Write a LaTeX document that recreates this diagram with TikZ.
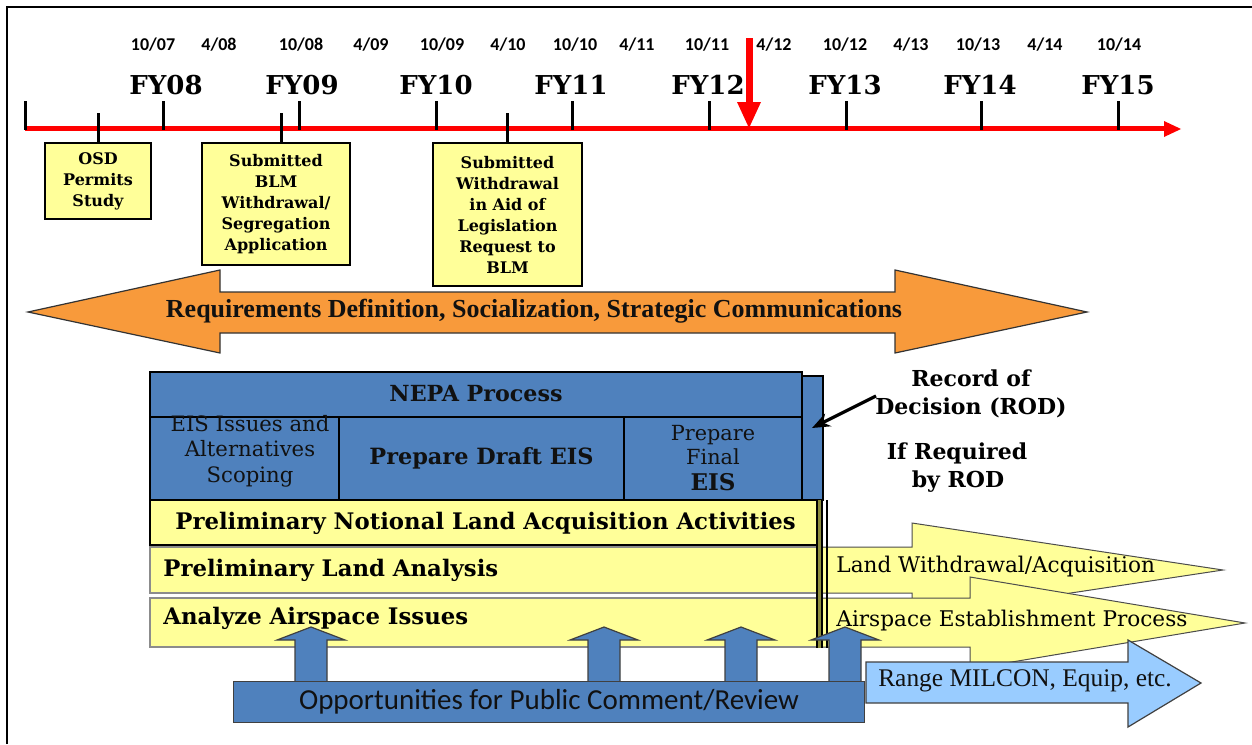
\documentclass[tikz,border=0pt]{standalone}
\usepackage{fontspec}
\setmainfont{DejaVu Serif}
\newfontfamily\calfont{Carlito}
\newfontfamily\libfont{Liberation Serif}
\usetikzlibrary{arrows.meta}
\definecolor{yfill}{HTML}{FFFF99}
\definecolor{bfill}{HTML}{4F81BD}
\definecolor{ofill}{HTML}{F89A3B}
\definecolor{lbfill}{HTML}{99CCFF}
\definecolor{rodline}{HTML}{8C8C3C}
\definecolor{txtdark}{HTML}{111111}
\begin{document}
\begin{tikzpicture}[x=0.5pt,y=-0.5pt,
  redline/.style={draw=red,line width=2.5pt},
  tickmark/.style={draw=black,line width=1.5pt},
  datelbl/.style={font=\calfont\bfseries\fontsize{9}{10}\selectfont,inner sep=0pt},
  fylbl/.style={font=\bfseries\fontsize{13}{14}\selectfont,inner sep=0pt},
  ybox/.style={draw=black,line width=1.2pt,fill=yfill,align=center,inner sep=0pt,
    font=\bfseries\fontsize{8}{10.5}\selectfont},
  bcell/.style={draw=black,line width=1.1pt,fill=bfill,inner sep=0pt,align=center,text=txtdark},
  ybar/.style={draw=black,line width=1.2pt,fill=yfill,inner sep=0pt},
  yarrow/.style={draw=black!70,line width=0.5pt,fill=yfill},
  bluearr/.style={draw=black!75,line width=0.6pt,fill=bfill},
  lbarrow/.style={draw=black!75,line width=0.6pt,fill=lbfill},
  orarrow/.style={draw=black!80,line width=0.6pt,fill=ofill},
  bartext/.style={font=\bfseries\fontsize{11.4}{13}\selectfont,inner sep=0pt,anchor=west},
  arrtext/.style={font=\fontsize{10.8}{12}\selectfont,inner sep=0pt,anchor=west},
  rodtext/.style={font=\bfseries\fontsize{11}{13}\selectfont,inner sep=0pt}
]
\useasboundingbox (0,0) rectangle (1252,744);
\fill[white] (0,0) rectangle (1252,744);
% frame
\draw[line width=1.2pt] (7,744) -- (7,7) -- (1252,7);

% timeline
\coordinate (tlstart) at (25,128);
\coordinate (tlend) at (1166,128);
\draw[redline] (tlstart) -- (tlend);
\fill[red] (1164,121) -- (1181,129) -- (1164,137) -- cycle;
\foreach \tx in {25,163,299,436,572,709,846,981,1118}{
  \draw[tickmark] (\tx,101) -- (\tx,130);
}
% date labels
\foreach \dx/\dt in {153/10\slash 07,219/4\slash 08,301/10\slash 08,371/4\slash 09,442/10\slash 09,508/4\slash 10,575/10\slash 10,637/4\slash 11,707/10\slash 11,774/4\slash 12,845/10\slash 12,911/4\slash 13,978/10\slash 13,1045/4\slash 14,1119/10\slash 14}{
  \node[datelbl] at (\dx,45) {\dt};
}
% FY labels
\foreach \fx/\ft in {166/FY08,302/FY09,436/FY10,571/FY11,708/FY12,845/FY13,980/FY14,1118/FY15}{
  \node[fylbl] at (\fx,85) {\ft};
}
% current-date red arrow
\fill[red] (746,38) rectangle (753,103);
\fill[red] (737,102) -- (761,102) -- (749,128) -- cycle;

% milestone boxes
\node[ybox,minimum width=53pt,minimum height=38pt] (osd) at (98,181) {OSD\\Permits\\Study};
\node[ybox,minimum width=74pt,minimum height=61pt] (blm) at (276,204) {Submitted\\BLM\\Withdrawal/\\Segregation\\Application};
\node[ybox,minimum width=74.5pt,minimum height=71.5pt] (leg) at (507.5,214.5) {Submitted\\Withdrawal\\in Aid of\\Legislation\\Request to\\BLM};
\coordinate (tkosd) at (98,113);
\coordinate (tkblm) at (281,113);
\coordinate (tkleg) at (507,113);
\draw[tickmark] (tkosd) -- (osd.north);
\draw[tickmark] (tkblm) -- (tkblm |- blm.north);
\draw[tickmark] (tkleg) -- (tkleg |- leg.north);

% orange double arrow
\draw[orarrow] (28,312) -- (220,270) -- (220,292) -- (895,292) -- (895,270) -- (1087,312)
  -- (895,353) -- (895,333) -- (220,333) -- (220,353) -- cycle;
\node[font=\libfont\bfseries\fontsize{13}{15}\selectfont,inner sep=0pt,text=txtdark] (req) at (534,311)
  {Requirements Definition, Socialization, Strategic Communications};

% yellow process arrows
\draw[yarrow] (150,547) -- (912,547) -- (912,523) -- (1223,570) -- (912,617) -- (912,593) -- (150,593) -- cycle;
\draw[yarrow] (150,598) -- (970,598) -- (970,577) -- (1245,623) -- (970,669) -- (970,647) -- (150,647) -- cycle;
\draw[draw=black!45,line width=0.6pt] (150,547) rectangle (820,593);
\draw[draw=black!45,line width=0.6pt] (150,598) rectangle (820,647);
\node[arrtext] (lwa) at (836,567) {Land Withdrawal/Acquisition};
\node[arrtext] (aep) at (836,621) {Airspace Establishment Process};
\node[bartext] (pla) at (163,570) {Preliminary Land Analysis};
\node[bartext] (aai) at (163,618) {Analyze Airspace Issues};

% light blue arrow
\draw[lbarrow] (866,662) -- (1128,662) -- (1128,640) -- (1201,683) -- (1128,727) -- (1128,703) -- (866,703) -- cycle;
\node[font=\libfont\fontsize{12.7}{14}\selectfont,inner sep=0pt,text=txtdark] (milcon) at (1025,681) {Range MILCON, Equip, etc.};

% NEPA block
\node[bcell,minimum width=326pt,minimum height=22.5pt] (nepa) at (476,394.5) {};
\node[font=\bfseries\fontsize{11.1}{13}\selectfont,inner sep=0pt,text=txtdark] (nepatxt) at (476,394) {NEPA Process};
\node[bcell,minimum width=94.5pt,minimum height=41.5pt] (eis) at (244.5,458.5) {};
\node[font=\fontsize{10.6}{12.8}\selectfont,inner sep=0pt,align=center,text=txtdark] (eistxt) at (250,451) {EIS Issues and\\Alternatives\\Scoping};
\node[bcell,minimum width=142.5pt,minimum height=41.5pt,font=\bfseries\fontsize{11.2}{13}\selectfont] (draft) at (481.5,458.5) {Prepare Draft EIS};
\node[bcell,minimum width=89pt,minimum height=41.5pt,font=\fontsize{10.4}{12}\selectfont] (final) at (713,458.5) {Prepare\\Final\\[1pt]{\bfseries\fontsize{11.5}{12}\selectfont EIS}};
\node[bcell,minimum width=10.5pt,minimum height=62pt] (rodbar) at (812.5,438) {};

% notional bar
\node[ybar,minimum width=336pt,minimum height=22.5pt] (notional) at (486,522.5) {};
\node[bartext] (notionaltxt) at (175,523) {Preliminary Notional Land Acquisition Activities};

% ROD vertical lines
\fill[rodline] (817,500) rectangle (822,648);
\draw[line width=0.7pt] (817,500) -- (817,648);
\draw[line width=0.7pt] (822,500) -- (822,648);
\draw[line width=0.8pt] (827,500) -- (827,648);

% ROD labels and arrow
\node[rodtext] (rec1) at (971,378) {Record of};
\node[rodtext] (rec2) at (971,408) {Decision (ROD)};
\node[rodtext] (ifr1) at (957,453) {If Required};
\node[rodtext] (ifr2) at (958,482) {by ROD};
\coordinate (rodfrom) at (876,396);
\coordinate (rodto) at (812,428);
\draw[line width=1.6pt,-{Stealth[length=9pt,width=7pt]}] (rodfrom) -- (rodto);

% public comment up arrows
\foreach \cx in {311,604,741,845}{
  \draw[bluearr] (\cx-16,682) -- (\cx-16,640) -- (\cx-34,640) -- (\cx,627) -- (\cx+34,640) -- (\cx+16,640) -- (\cx+16,682);
}
\node[draw=black!75,line width=0.7pt,fill=bfill,minimum width=315.5pt,minimum height=20.5pt,inner sep=0pt,
  font=\calfont\fontsize{14.5}{16}\selectfont,text=txtdark] (opp) at (549,702) {Opportunities for Public Comment/Review};
\end{tikzpicture}
\end{document}
